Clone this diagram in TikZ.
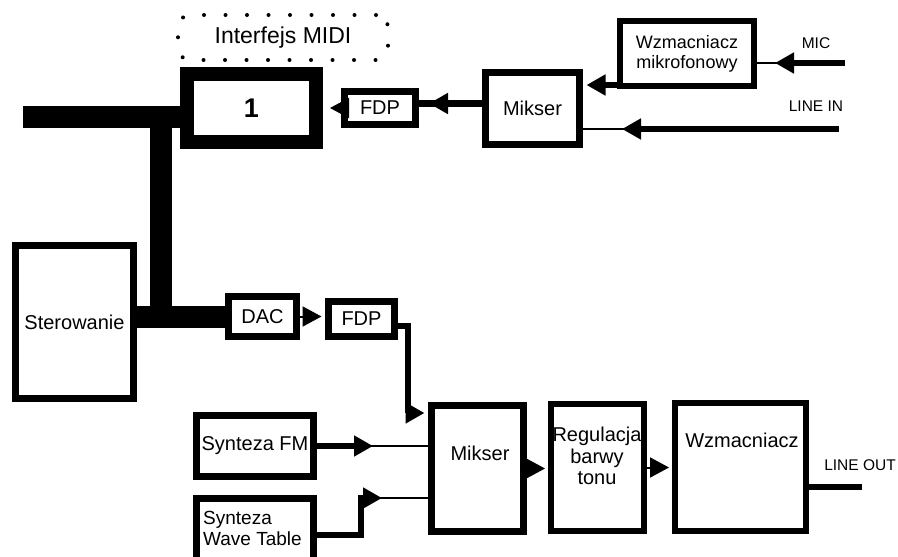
\documentclass[tikz,border=0pt]{standalone}
\usepackage{fontspec}
\setmainfont{Liberation Sans}
\usetikzlibrary{arrows.meta}
\tikzset{
  blok/.style={draw, line width=7pt, inner sep=0pt, align=center, font=\fontsize{20}{23}\selectfont},
  tekst/.style={inner sep=0pt, align=center, font=\fontsize{20}{21.5}\selectfont},
  opis/.style={inner sep=0pt, font=\fontsize{15.5}{18}\selectfont},
  gruba/.style={line width=6.5pt},
  cienka/.style={line width=2pt},
  szyna/.style={line width=22pt},
  grot/.style={-{Triangle[length=19pt,width=20pt]}},
}
\begin{document}
\begin{tikzpicture}[x=1pt,y=-1pt]
\useasboundingbox (0,0) rectangle (898,557);
\clip (0,0) rectangle (898,557);
% gora
\node[draw, dash pattern=on 0pt off 21.5pt, line cap=round, line width=4pt, rounded corners=12pt, minimum width=210pt, minimum height=45pt, font=\fontsize{23}{26}\selectfont] (midi) at (283,37.5) {Interfejs MIDI};
\node[blok, line width=14pt, minimum width=129pt, minimum height=68pt, font=\bfseries\fontsize{27}{30}\selectfont] (jeden) at (251.5,108) {1};
\node[blok, minimum width=71pt, minimum height=33pt] (fdpA) at (380,108) {FDP};
\node[blok, minimum width=94pt, minimum height=72pt] (miksA) at (532.5,108.5) {Mikser};
\node[blok, line width=6pt, minimum width=134pt, minimum height=65pt, font=\fontsize{18}{20}\selectfont] (wzmMic) at (687,53.5) {Wzmacniacz\\mikrofonowy};
% dol
\node[blok, minimum width=118pt, minimum height=153pt] (ster) at (74.5,322) {Sterowanie};
\node[blok, minimum width=68pt, minimum height=40pt] (dac) at (262.5,316.5) {DAC};
\node[blok, minimum width=66pt, minimum height=35pt] (fdpB) at (361.5,319) {FDP};
\node[blok, minimum width=92pt, minimum height=126pt] (miksB) at (477.5,468.5) {};
\node[blok, minimum width=117pt, minimum height=61pt] (fm) at (255,446) {Synteza FM};
\node[blok, minimum width=117pt, minimum height=73pt] (wt) at (255,535) {};
\node[blok, line width=6pt, minimum width=93pt, minimum height=127pt] (reg) at (597.5,467.5) {};
\node[blok, line width=6pt, minimum width=131pt, minimum height=128pt] (wzm) at (740.5,467) {};
\node[tekst] (miksBtxt) at (480,453) {Mikser};
\node[tekst, align=left, anchor=west, font=\fontsize{19}{21}\selectfont] (wtTxt) at (203,528) {Synteza\\Wave Table};
\node[tekst] (regTxt) at (597,456) {Regulacja\\barwy\\tonu};
\node[tekst] (wzmTxt) at (742,440) {Wzmacniacz};
\node[opis] (micTxt) at (816,43) {MIC};
\node[opis] (lineInTxt) at (816,106) {LINE IN};
\node[opis] (lineOutTxt) at (860,465) {LINE OUT};
% punkty
\coordinate (micIn) at (845,63);
\coordinate (lineIn) at (839,129);
\coordinate (lineOut) at (862,487);
\coordinate (busL) at (23,117);
\coordinate (busT) at (161,117);
\coordinate (zal) at (408,413);
\coordinate (wtZ) at (361,498);
\coordinate (wzmOut) at ([yshift=4pt]wzmMic.south west);
\coordinate (miksOut) at ([yshift=5pt]miksA.west);
% szyny
\draw[szyna] (busL) -- (busL -| jeden.west);
\draw[szyna] (busT) -- (busT |- dac.west);
\draw[szyna] (ster.east |- dac.west) -- (dac.west);
% polaczenia gora
\draw[cienka] (micIn) -- (micIn -| wzmMic.east);
\draw[gruba, grot] (micIn) -- ++(-70,0);
\draw[gruba, grot, shorten >=3.5pt] (wzmOut) -- (wzmOut -| miksA.east);
\draw[cienka] (lineIn) -- (lineIn -| miksA.east);
\draw[gruba, grot] (lineIn) -- ++(-217,0);
\draw[gruba] (miksOut) -- (miksOut -| fdpA.east);
\draw[gruba, grot] (miksOut) -- ++(-53,0);
\draw[cienka, grot, shorten >=7pt] (fdpA.west) -- (jeden.east);
% polaczenia dol
\draw[cienka, grot, shorten >=3.5pt] (dac.east) -- (dac.east -| fdpB.west);
\draw[gruba, grot, shorten >=3.5pt] ([yshift=-7pt]fdpB.east) -| (zal) -- (zal -| miksB.west);
\draw[cienka] (fm.east) -- (fm.east -| miksB.west);
\draw[gruba, grot] (fm.east) -- ++(56,0);
\draw[cienka] (wtZ) -- (wtZ -| miksB.west);
\draw[gruba, grot] (wt.east) -| (wtZ) -- ++(21,0);
\draw[cienka, grot, shorten >=3pt] (miksB.east) -- (miksB.east -| reg.west);
\draw[cienka, grot, shorten >=3pt] (reg.east) -- (reg.east -| wzm.west);
\draw[gruba] (lineOut -| wzm.east) -- (lineOut);
\end{tikzpicture}
\end{document}
